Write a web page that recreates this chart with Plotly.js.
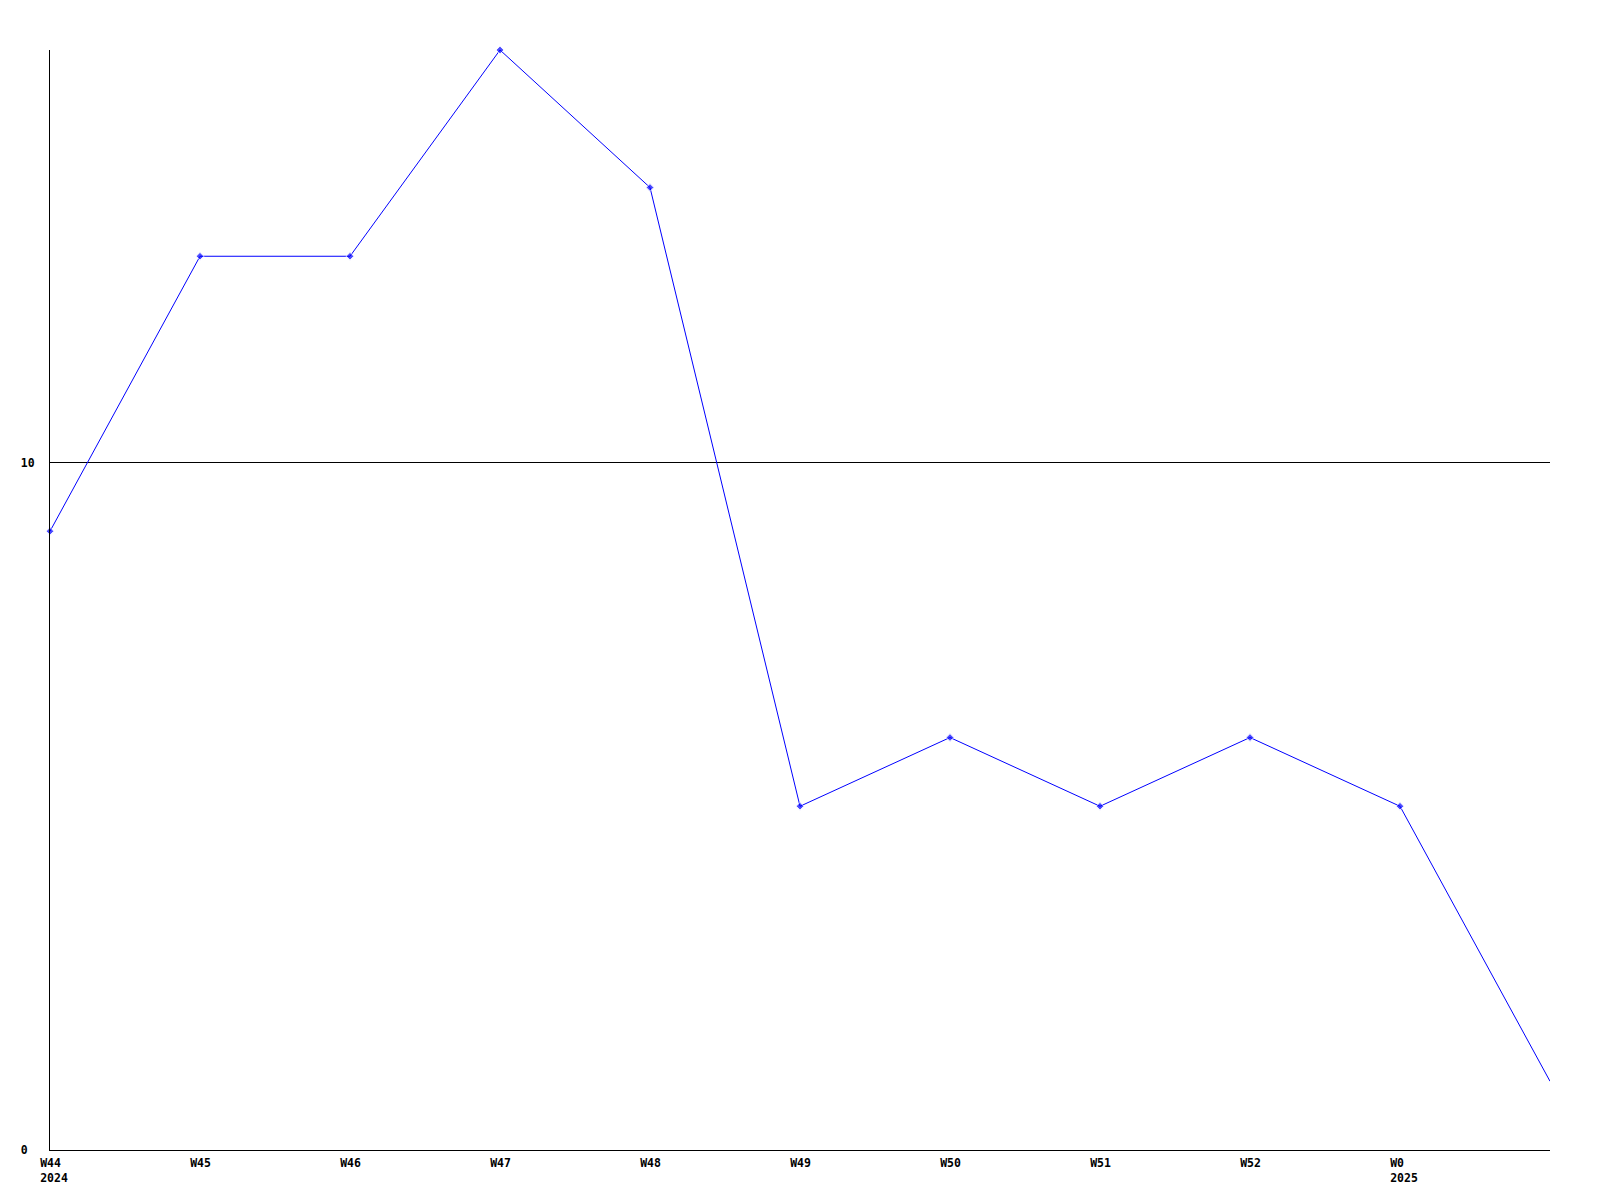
<!DOCTYPE html>
<html>
<head>
<meta charset="utf-8">
<script src="https://cdn.plot.ly/plotly-3.0.1.min.js"></script>
<style>
  html, body { margin: 0; padding: 0; background: #fff; }
  #chart { width: 1600px; height: 1200px; }
</style>
</head>
<body>
<div id="chart"></div>
<script>
const weekLabels = ['W44', 'W45', 'W46', 'W47', 'W48', 'W49', 'W50', 'W51', 'W52', 'W0'];
const yearLabels = ['2024', '', '', '', '', '', '', '', '', '2025'];
const values = [9, 13, 13, 16, 14, 5, 6, 5, 6, 5, 1];
const yTickValues = [0, 10];
const yTickLabels = ['0', '10'];

const xs = values.map((v, i) => i);
const nbsp = '\u00A0';
const padTo = (s, n) => s + nbsp.repeat(Math.max(0, n - s.length));
const xTickText = weekLabels.map((w, i) => {
  if (yearLabels[i]) {
    return padTo(w, 4) + '<br>' + padTo(yearLabels[i], 4);
  }
  return padTo(w, 4);
});
const maxLen = Math.max(...yTickLabels.map(s => s.length));
const yTickText = yTickLabels.map(s => padTo(s, maxLen));

const font = { family: 'DejaVu Sans Mono', size: 11.5, color: '#000', weight: 'bold' };

const trace = {
  x: xs,
  y: values,
  type: 'scatter',
  mode: 'lines+markers',
  cliponaxis: false,
  line: { color: '#0000ff', width: 1 },
  marker: {
    color: '#0000ff',
    symbol: 'diamond',
    size: values.map((v, i) => (i === values.length - 1 ? 0 : 6))
  },
  hoverinfo: 'none'
};

const layout = {
  width: 1600,
  height: 1200,
  margin: { l: 50, r: 50, t: 50, b: 50, pad: 0 },
  paper_bgcolor: '#fff',
  plot_bgcolor: '#fff',
  showlegend: false,
  font: font,
  xaxis: {
    range: [0, values.length - 1],
    tickvals: weekLabels.map((w, i) => i),
    ticktext: xTickText,
    tickfont: font,
    showgrid: false,
    zeroline: false,
    showline: true,
    linecolor: '#000',
    linewidth: 1,
    ticks: '',
    ticklabelstandoff: 2,
    ticklabelshift: 4,
    fixedrange: true
  },
  yaxis: {
    range: [0, 16],
    tickvals: yTickValues,
    ticktext: yTickText,
    tickfont: font,
    showgrid: true,
    gridcolor: '#000',
    gridwidth: 1,
    zeroline: false,
    showline: true,
    linecolor: '#000',
    linewidth: 1,
    ticks: '',
    ticklabelstandoff: 12,
    fixedrange: true
  }
};

Plotly.newPlot('chart', [trace], layout, { staticPlot: true, displayModeBar: false });
</script>
</body>
</html>
